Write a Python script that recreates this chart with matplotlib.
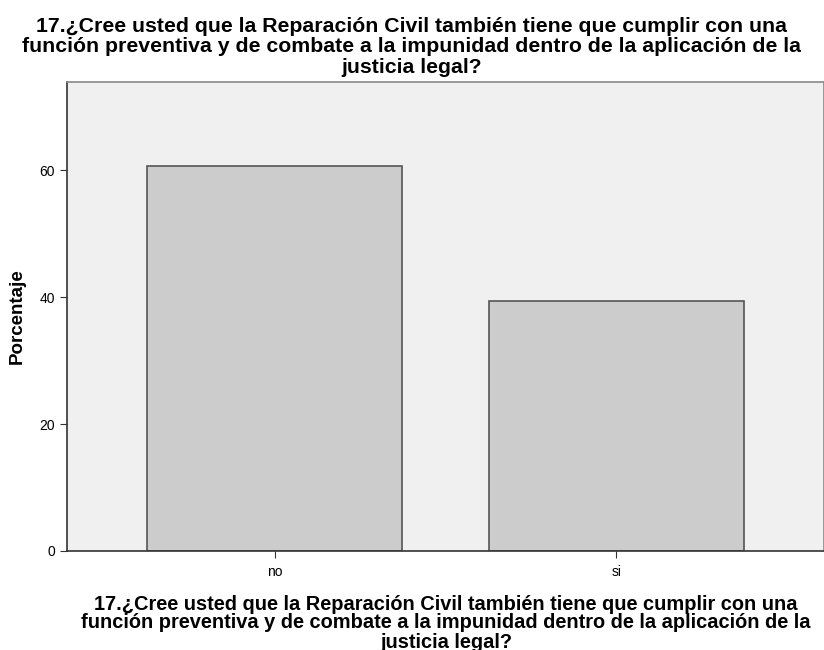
import matplotlib
matplotlib.use("Agg")
import matplotlib.pyplot as plt

categories = ["no", "si"]
percentages = [60.6, 39.4]
y_ticks = [0, 20, 40, 60]

question = ("17.¿Cree usted que la Reparación Civil también tiene que cumplir con una\n"
            "función preventiva y de combate a la impunidad dentro de la aplicación de la\n"
            "justicia legal?")

plt.rcParams["font.family"] = ["Liberation Sans", "DejaVu Sans"]

fig = plt.figure(figsize=(8.24, 6.5), dpi=100)
ax = fig.add_axes([67 / 824, 99 / 650, 757 / 824, 469 / 650])
ax.set_facecolor("#f0f0f0")

x = list(range(len(categories)))
ax.bar(x, percentages, width=0.745, color="#cccccc", edgecolor="#555555", linewidth=1.2)

ax.set_xlim(-0.608, 1.608)
ax.set_ylim(0, 73.9)
ax.set_yticks(y_ticks)
ax.set_xticks(x)
ax.set_xticklabels(categories)
ax.tick_params(axis="both", labelsize=10, length=5, color="#333333")
ax.tick_params(axis="x", pad=5)

for side in ["left", "bottom"]:
    ax.spines[side].set_color("#333333")
    ax.spines[side].set_linewidth(1.2)
for side in ["top", "right"]:
    ax.spines[side].set_color("#888888")
    ax.spines[side].set_linewidth(1.2)

# titles and axis labels placed in figure pixels to follow the original layout
fig.text(17 / 824, 1 - 316 / 650, "Porcentaje", rotation=90, ha="center", va="center",
         fontsize=13.5, fontweight="bold")
fig.text(446 / 824, 1 - 623 / 650, question, ha="center", va="center", fontsize=14.4,
         fontweight="bold", linespacing=1.0)
fig.text(0.5, 1 - 47 / 650, question, ha="center", va="center", fontsize=15.3,
         fontweight="bold", linespacing=1.12)

fig.savefig("out.png", dpi=100)
